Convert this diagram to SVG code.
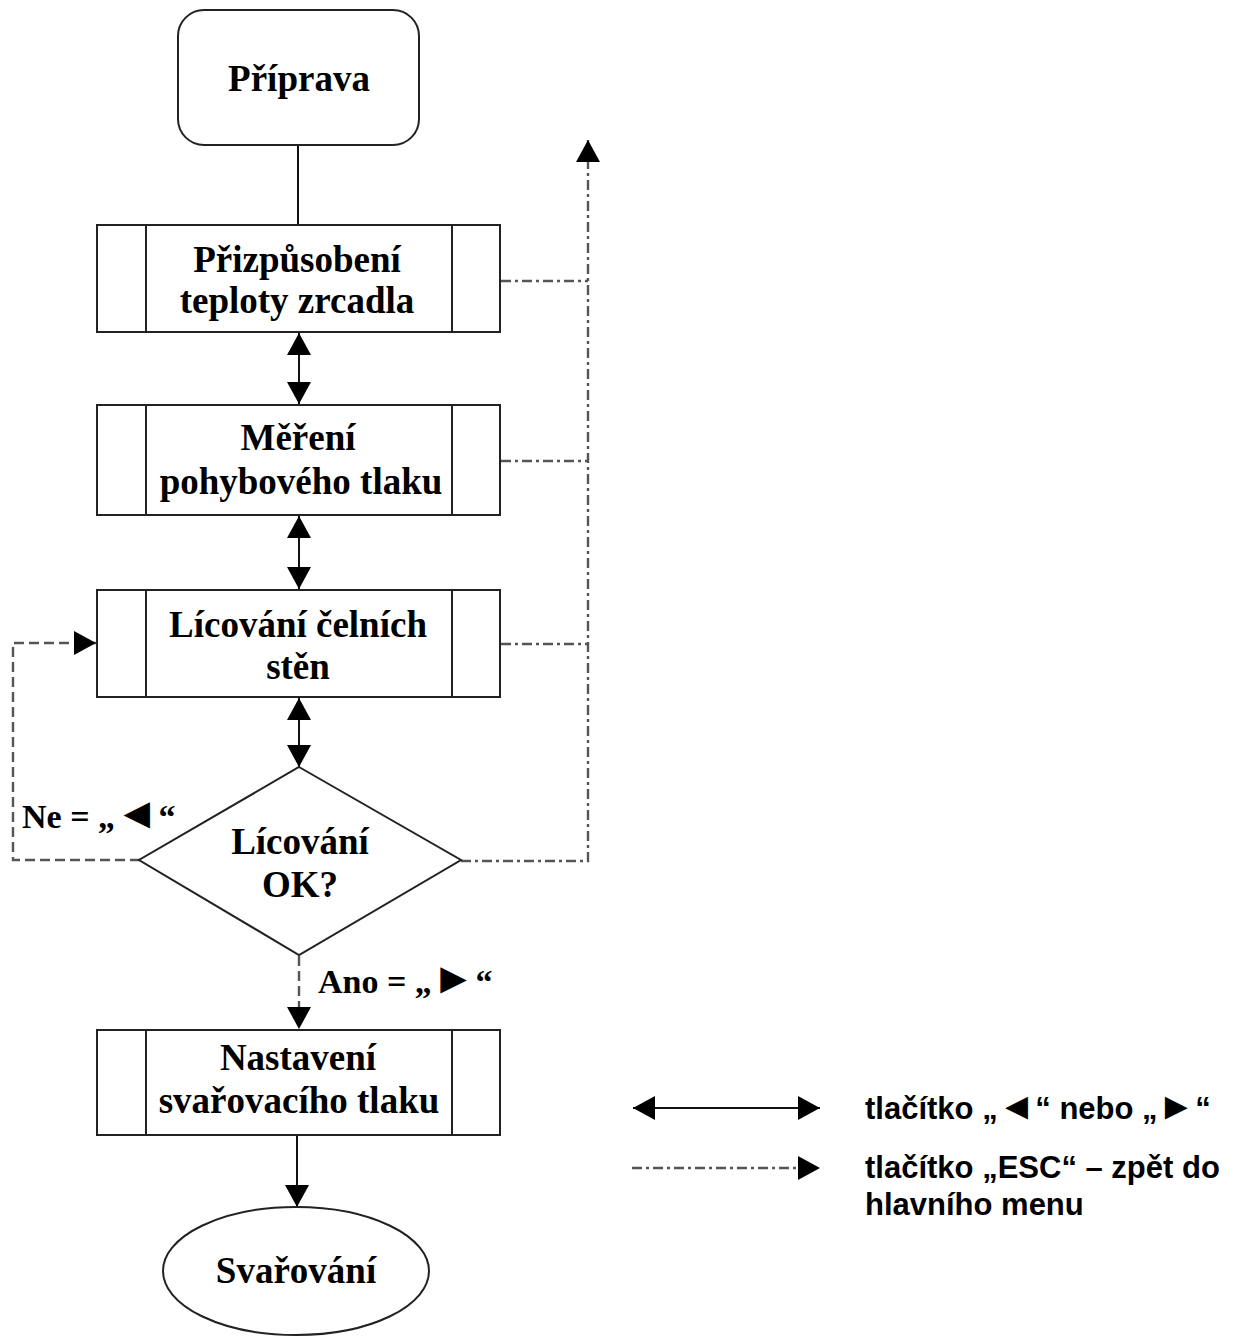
<svg xmlns="http://www.w3.org/2000/svg" width="1244" height="1340" viewBox="0 0 1244 1340">
<style>
.box{fill:#fff;stroke:#222;stroke-width:2}
.t{font-family:"Liberation Serif","Times New Roman",serif;font-weight:bold;font-size:37px;fill:#000;text-anchor:middle}
.lbl{font-family:"Liberation Serif","Times New Roman",serif;font-weight:bold;font-size:34px;fill:#000}
.leg{font-family:"Liberation Sans",Arial,sans-serif;font-weight:bold;font-size:31px;fill:#000}
.tri{font-size:44px}
.tri2{font-size:38px}
.solid{fill:none;stroke:#111;stroke-width:2}
.dash{fill:none;stroke:#555;stroke-width:2.4;stroke-dasharray:10 5}
.esc{fill:none;stroke:#555;stroke-width:2.4;stroke-dasharray:10 4 3 4}
</style>
<defs>
<marker id="ah" viewBox="0 0 10 10" refX="10" refY="5" markerWidth="22" markerHeight="24" markerUnits="userSpaceOnUse" orient="auto-start-reverse" preserveAspectRatio="none">
<path d="M0,0 L10,5 L0,10 z" fill="#000"/>
</marker>
</defs>
<rect width="1244" height="1340" fill="#fff"/>
<g id="connectors">
<line class="solid" x1="298" y1="146" x2="298" y2="225"/>
<line class="solid" x1="299" y1="333" x2="299" y2="404" marker-start="url(#ah)" marker-end="url(#ah)"/>
<line class="solid" x1="299" y1="516" x2="299" y2="589" marker-start="url(#ah)" marker-end="url(#ah)"/>
<line class="solid" x1="299" y1="698" x2="299" y2="767" marker-start="url(#ah)" marker-end="url(#ah)"/>
<line class="dash" x1="299" y1="956" x2="299" y2="1029" marker-end="url(#ah)"/>
<line class="solid" x1="297" y1="1136" x2="297" y2="1207" marker-end="url(#ah)"/>
<polyline class="dash" points="140,860 13,860 13,643 96,643" marker-end="url(#ah)"/>
<line class="esc" x1="501" y1="281" x2="588" y2="281"/>
<line class="esc" x1="501" y1="461" x2="588" y2="461"/>
<line class="esc" x1="501" y1="644" x2="588" y2="644"/>
<polyline class="esc" points="461,861 588,861 588,140" marker-end="url(#ah)"/>
</g>
<g id="n-priprava">
<rect class="box" x="178" y="10" width="241" height="135" rx="26"/>
<text class="t" x="299" y="91">Příprava</text>
</g>
<g id="n-teplota">
<rect class="box" x="97" y="225" width="403" height="107"/>
<line class="box" x1="146" y1="225" x2="146" y2="332"/>
<line class="box" x1="452" y1="225" x2="452" y2="332"/>
<text class="t" x="297" y="272">Přizpůsobení</text>
<text class="t" x="297" y="313">teploty zrcadla</text>
</g>
<g id="n-tlak">
<rect class="box" x="97" y="405" width="403" height="110"/>
<line class="box" x1="146" y1="405" x2="146" y2="515"/>
<line class="box" x1="452" y1="405" x2="452" y2="515"/>
<text class="t" x="298" y="450">Měření</text>
<text class="t" x="301" y="494">pohybového tlaku</text>
</g>
<g id="n-licovani">
<rect class="box" x="97" y="590" width="403" height="107"/>
<line class="box" x1="146" y1="590" x2="146" y2="697"/>
<line class="box" x1="452" y1="590" x2="452" y2="697"/>
<text class="t" x="298" y="637">Lícování čelních</text>
<text class="t" x="298" y="679">stěn</text>
</g>
<g id="n-ok">
<polygon class="box" points="299,767 461,860 299,955 139,860"/>
<text class="t" x="300" y="854">Lícování</text>
<text class="t" x="300" y="897">OK?</text>
</g>
<g id="n-nastaveni">
<rect class="box" x="97" y="1030" width="403" height="105"/>
<line class="box" x1="146" y1="1030" x2="146" y2="1135"/>
<line class="box" x1="452" y1="1030" x2="452" y2="1135"/>
<text class="t" x="298" y="1070">Nastavení</text>
<text class="t" x="299" y="1113">svařovacího tlaku</text>
</g>
<g id="n-svarovani">
<ellipse class="box" cx="296" cy="1271" rx="133" ry="64"/>
<text class="t" x="296" y="1283">Svařování</text>
</g>
<g id="labels">
<text class="lbl" x="22" y="828">Ne = „<tspan class="tri">◄</tspan>“</text>
<text class="lbl" x="318" y="993">Ano = „<tspan class="tri">►</tspan>“</text>
</g>
<g id="legend">
<line class="solid" x1="633" y1="1108" x2="820" y2="1108" marker-start="url(#ah)" marker-end="url(#ah)"/>
<line class="esc" x1="632" y1="1168" x2="820" y2="1168" marker-end="url(#ah)"/>
<text class="leg" x="865" y="1119">tlačítko „<tspan class="tri2">◄</tspan>“ nebo „<tspan class="tri2">►</tspan>“</text>
<text class="leg" x="865" y="1178">tlačítko „ESC“ – zpět do</text>
<text class="leg" x="865" y="1215">hlavního menu</text>
</g>
</svg>
